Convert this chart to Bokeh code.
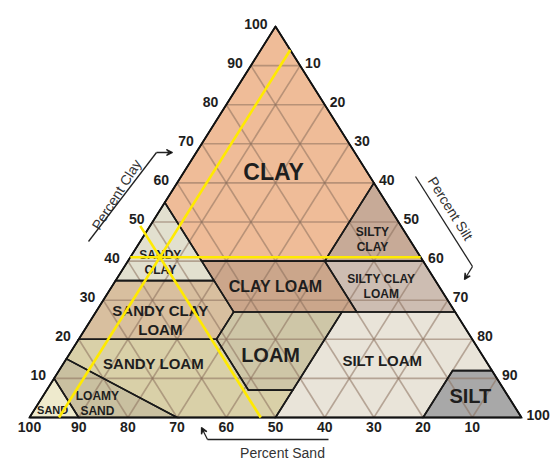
from bokeh.plotting import figure
from bokeh.models import Range1d, Arrow, VeeHead
from bokeh.core.properties import value
from bokeh.embed import file_html
from bokeh.resources import INLINE
import math

# ---------------- data (sand, silt, clay) percentages ----------------
sand_region = [(100, 0, 0), (90, 10, 0), (90, 0, 10)]
loamy_sand_region = [(90, 10, 0), (70, 30, 0), (85, 0, 15), (90, 0, 10)]
sandy_loam_region = [(85, 0, 15), (70, 30, 0), (50, 50, 0), (43, 50, 7), (52, 41, 7), (52, 28, 20), (80, 0, 20)]
loam_region = [(43, 50, 7), (52, 41, 7), (52, 28, 20), (45, 28, 27), (23, 50, 27)]
silt_loam_region = [(50, 50, 0), (20, 80, 0), (8, 80, 12), (0, 88, 12), (0, 73, 27), (23, 50, 27)]
silt_region = [(20, 80, 0), (0, 100, 0), (0, 88, 12), (8, 80, 12)]
sandy_clay_loam_region = [(80, 0, 20), (52, 28, 20), (45, 28, 27), (45, 20, 35), (65, 0, 35)]
clay_loam_region = [(45, 28, 27), (20, 53, 27), (20, 40, 40), (45, 15, 40)]
silty_clay_loam_region = [(20, 53, 27), (0, 73, 27), (0, 60, 40), (20, 40, 40)]
sandy_clay_region = [(65, 0, 35), (45, 20, 35), (45, 15, 40), (45, 0, 55)]
silty_clay_region = [(20, 40, 40), (0, 60, 40), (0, 40, 60)]
clay_region = [(45, 0, 55), (45, 15, 40), (20, 40, 40), (0, 40, 60), (0, 0, 100)]

region_names = ["SAND", "LOAMY\nSAND", "SANDY LOAM", "LOAM", "SILT LOAM", "SILT",
                "SANDY CLAY\nLOAM", "CLAY LOAM", "SILTY CLAY\nLOAM", "SANDY\nCLAY",
                "SILTY\nCLAY", "CLAY"]
region_polys = [sand_region, loamy_sand_region, sandy_loam_region, loam_region,
                silt_loam_region, silt_region, sandy_clay_loam_region, clay_loam_region,
                silty_clay_loam_region, sandy_clay_region, silty_clay_region, clay_region]

clay_ticks = [10, 20, 30, 40, 50, 60, 70, 80, 90, 100]
silt_ticks = [10, 20, 30, 40, 50, 60, 70, 80, 90, 100]
sand_ticks = [100, 90, 80, 70, 60, 50, 40, 30, 20, 10]
grid_levels = [10, 20, 30, 40, 50, 60, 70, 80, 90]

sample_sand = 53
sample_silt = 6
sample_clay = 41

# ---------------- styles / layout ----------------
region_colors = ["#EEEACD", "#C9C0A0", "#D9D0A8", "#CEC6A7", "#E9E4D9", "#A8A8A8",
                 "#D8BF9F", "#CBA68B", "#CDBDB2", "#E2E0CF", "#C7AA97", "#EFBC98"]
# label anchors in plot units (x = silt + clay/2, y = clay)
label_xy = [(4.7, 1.8), (13.8, 3.6), (25.2, 13.8), (49.0, 16.1), (71.7, 14.6), (89.6, 5.4),
            (26.6, 25.0), (50.0, 33.5), (71.5, 33.5), (26.6, 39.6), (69.7, 45.5), (49.6, 62.7)]
label_sizes = ["11px", "12px", "15px", "20px", "15px", "20px",
               "15px", "16px", "12px", "12px", "12px", "23px"]

FONT = "Liberation Sans"


def tern(sand, silt, clay):
    return silt + clay / 2.0, clay


# image pixel -> plot units (for decorative arrows/titles)
def px(x, y):
    return (x - 29) / 4.92, (417 - y) / 3.91


W, H = 550, 459
x0 = -29 / 4.92
y1 = 417 / 3.91
p = figure(width=W, height=H, output_backend="svg", toolbar_location=None,
           x_range=Range1d(x0, x0 + W / 4.92), y_range=Range1d(y1 - H / 3.91, y1),
           min_border=0, outline_line_color=None, background_fill_color="white",
           border_fill_color="white")
p.axis.visible = False
p.grid.visible = False

# region fills
xs = [[tern(*v)[0] for v in poly] for poly in region_polys]
ys = [[tern(*v)[1] for v in poly] for poly in region_polys]
p.patches(xs, ys, fill_color=region_colors, line_color=None)

# 10% grid in three directions
gx, gy = [], []
for v in grid_levels:
    for a, b in [((100 - v, 0, v), (0, 100 - v, v)),
                 ((v, 100 - v, 0), (v, 0, 100 - v)),
                 ((100 - v, v, 0), (0, v, 100 - v))]:
        ax_, ay_ = tern(*a)
        bx_, by_ = tern(*b)
        gx.append([ax_, bx_])
        gy.append([ay_, by_])
p.multi_line(gx, gy, line_color="#8A6F5C", line_alpha=0.55, line_width=1.6)

# region boundaries
p.patches(xs, ys, fill_color=None, line_color="#1a1a1a", line_width=1.6, line_join="miter")

# outer triangle
ox = [tern(100, 0, 0)[0], tern(0, 100, 0)[0], tern(0, 0, 100)[0]]
oy = [tern(100, 0, 0)[1], tern(0, 100, 0)[1], tern(0, 0, 100)[1]]
p.patch(ox, oy, fill_color=None, line_color="#111111", line_width=1.8)

# region labels
p.text([xy[0] for xy in label_xy], [xy[1] for xy in label_xy], text=region_names,
       text_font=value(FONT), text_font_style="bold", text_font_size=label_sizes,
       text_color="#1e1e1e", text_align="center", text_baseline="middle",
       text_line_height=1.1)

# tick labels
cx = [tern(100 - c, 0, c)[0] for c in clay_ticks]
cy = [tern(100 - c, 0, c)[1] for c in clay_ticks]
p.text(cx, cy, text=[str(c) for c in clay_ticks], text_font=value(FONT),
       text_font_style="bold", text_font_size="14px", text_color="#1e1e1e",
       text_align="right", text_baseline="middle", x_offset=-8, y_offset=-3)

sx = [tern(0, s, 100 - s)[0] for s in silt_ticks]
sy = [tern(0, s, 100 - s)[1] for s in silt_ticks]
p.text(sx, sy, text=[str(s) for s in silt_ticks], text_font=value(FONT),
       text_font_style="bold", text_font_size="14px", text_color="#1e1e1e",
       text_align="left", text_baseline="middle", x_offset=5, y_offset=-3)

bx = [tern(s, 100 - s, 0)[0] for s in sand_ticks]
by = [tern(s, 100 - s, 0)[1] for s in sand_ticks]
p.text(bx, by, text=[str(s) for s in sand_ticks], text_font=value(FONT),
       text_font_style="bold", text_font_size="14px", text_color="#1e1e1e",
       text_align="center", text_baseline="top", y_offset=4)

# axis titles with bent arrows
ang = math.atan(391 / 246)
tx, ty = px(116, 194)
p.text([tx], [ty], text=["Percent Clay"], angle=ang, text_font=value(FONT),
       text_font_size="14px", text_color="#333333", text_align="center", text_baseline="middle")
tx, ty = px(450, 208)
p.text([tx], [ty], text=["Percent Silt"], angle=-ang, text_font=value(FONT),
       text_font_size="14px", text_color="#333333", text_align="center", text_baseline="middle")
tx, ty = px(282, 452)
p.text([tx], [ty], text=["Percent Sand"], text_font=value(FONT),
       text_font_size="14px", text_color="#333333", text_align="center", text_baseline="middle")


def bent_arrow(pts):
    xy = [px(*q) for q in pts]
    p.line([q[0] for q in xy[:-1]], [q[1] for q in xy[:-1]], line_color="#222222", line_width=1.3)
    p.add_layout(Arrow(end=VeeHead(size=6, line_color="#222222", line_width=1.3),
                       x_start=xy[-2][0], y_start=xy[-2][1], x_end=xy[-1][0], y_end=xy[-1][1],
                       line_color="#222222", line_width=1.3))


bent_arrow([(88, 241), (156, 152), (172, 152)])
bent_arrow([(415, 176), (472, 266), (464, 279)])
bent_arrow([(328, 439), (207, 439), (201, 427)])

# yellow reading lines for the sample
yx, yy = [], []
a = tern(100 - sample_clay, 0, sample_clay); b = tern(0, 100 - sample_clay, sample_clay)
yx.append([a[0], b[0]]); yy.append([a[1], b[1]])
a = tern(100 - sample_silt, sample_silt, 0); b = tern(0, sample_silt, 100 - sample_silt)
yx.append([a[0], b[0]]); yy.append([a[1], b[1]])
a = tern(sample_sand, 100 - sample_sand, 0); b = tern(sample_sand, -2, 49)
yx.append([a[0], b[0]]); yy.append([a[1], b[1]])
p.multi_line(yx, yy, line_color="#FFEA00", line_width=2.6)

open("out.html", "w").write(file_html(p, INLINE))
